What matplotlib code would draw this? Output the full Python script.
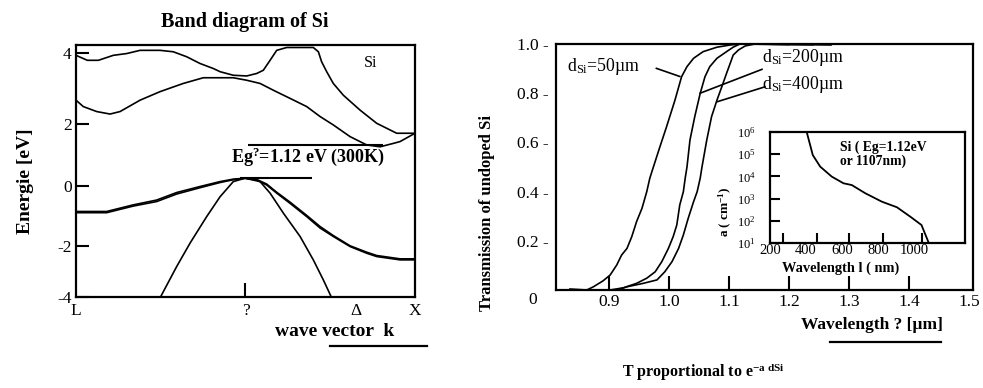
import numpy as np
import matplotlib
matplotlib.use("Agg")
import matplotlib.pyplot as plt
from matplotlib.lines import Line2D
from matplotlib.ticker import FixedLocator, NullFormatter

plt.rcParams['font.family'] = ['Liberation Serif', 'DejaVu Serif']
plt.rcParams['mathtext.fontset'] = 'custom'
plt.rcParams['mathtext.rm'] = 'Liberation Serif'
plt.rcParams['mathtext.bf'] = 'Liberation Serif:bold'
plt.rcParams['mathtext.it'] = 'Liberation Serif:italic'

# ---- band diagram data (k: L=0, Gamma=1, X=2 ; energy in eV)
k_c1 = [0, 0.067, 0.132, 0.220, 0.299, 0.378, 0.496, 0.574, 0.653, 0.732, 0.810, 0.850, 0.928,
        1.007, 1.066, 1.105, 1.145, 1.184, 1.243, 1.400, 1.430, 1.449, 1.479, 1.518, 1.577,
        1.676, 1.774, 1.892, 2.0]
e_c1 = [3.93, 3.79, 3.79, 3.93, 3.98, 4.07, 4.07, 4.03, 3.89, 3.70, 3.56, 3.47, 3.37,
        3.35, 3.42, 3.51, 3.79, 4.07, 4.15, 4.15, 4.03, 3.75, 3.47, 3.14, 2.81,
        2.39, 2.02, 1.70, 1.70]
k_c2 = [0, 0.043, 0.122, 0.201, 0.260, 0.378, 0.496, 0.633, 0.751, 0.928, 1.007, 1.086, 1.164,
        1.263, 1.361, 1.440, 1.518, 1.617, 1.715, 1.794, 1.872, 1.912, 2.0]
e_c2 = [2.67, 2.49, 2.35, 2.28, 2.35, 2.67, 2.91, 3.14, 3.30, 3.30, 3.23, 3.14, 2.95,
        2.72, 2.49, 2.21, 1.97, 1.59, 1.32, 1.26, 1.37, 1.43, 1.70]
k_vb = [0, 0.181, 0.338, 0.476, 0.594, 0.732, 0.850, 0.928, 0.997, 1.066, 1.125, 1.184, 1.263,
        1.361, 1.440, 1.518, 1.617, 1.715, 1.774, 1.912, 2.0]
e_hh = [-0.86, -0.86, -0.64, -0.48, -0.23, -0.03, 0.13, 0.21, 0.24, 0.18, 0.02, -0.25, -0.59,
        -1.03, -1.41, -1.69, -2.03, -2.29, -2.42, -2.55, -2.55]
e_lh = [-0.90, -0.90, -0.68, -0.53, -0.28, -0.07, 0.10, 0.19, 0.24, 0.20, 0.05, -0.22, -0.55,
        -0.99, -1.36, -1.66, -2.00, -2.25, -2.38, -2.51, -2.51]
k_so = [0.501, 0.594, 0.673, 0.771, 0.850, 0.928, 0.997, 1.086, 1.145, 1.224, 1.322, 1.400,
        1.459, 1.504]
e_so = [-3.97, -2.81, -1.91, -1.03, -0.37, 0.13, 0.24, 0.13, -0.25, -0.92, -1.69, -2.55,
        -3.33, -3.97]
cb_min = 1.31
vb_max = 0.26
k_ticks = [0, 1, 1.652, 2]
k_labels = ['L', '?', '\u0394', 'X']
e_ticks = [-4, -2, 0, 2, 4]
# the scanned axis is not evenly spaced: pixel height of each tick above the bottom
e_tick_px = [0, 51.3, 111.6, 173.3, 244.6]

# ---- transmission data (wavelength in um)
wl_50 = [0.835, 0.863, 0.874, 0.890, 0.902, 0.913, 0.921, 0.930, 0.938, 0.946, 0.955, 0.963,
         0.968, 0.974, 0.985, 0.996, 1.010, 1.021, 1.030, 1.041, 1.057, 1.080, 1.102, 1.118, 1.20]
t_50 = [0.004, 0.0, 0.013, 0.037, 0.061, 0.102, 0.142, 0.169, 0.217, 0.278, 0.332, 0.400,
        0.454, 0.50, 0.583, 0.664, 0.772, 0.867, 0.908, 0.942, 0.969, 0.987, 0.996, 1.0, 0.998]
wl_200 = [0.902, 0.924, 0.946, 0.963, 0.977, 0.988, 0.999, 1.007, 1.013, 1.018, 1.024, 1.027,
          1.030, 1.035, 1.043, 1.052, 1.060, 1.068, 1.080, 1.096, 1.107, 1.118, 1.24]
t_200 = [0.0, 0.009, 0.027, 0.048, 0.074, 0.115, 0.169, 0.217, 0.264, 0.346, 0.400, 0.454,
         0.50, 0.610, 0.705, 0.799, 0.867, 0.908, 0.942, 0.969, 0.987, 1.0, 0.997]
wl_400 = [0.913, 0.930, 0.957, 0.980, 0.993, 1.005, 1.016, 1.024, 1.032, 1.041, 1.047, 1.052,
          1.055, 1.063, 1.071, 1.080, 1.088, 1.096, 1.102, 1.107, 1.116, 1.127, 1.143, 1.27]
t_400 = [0.0, 0.013, 0.027, 0.041, 0.074, 0.115, 0.169, 0.224, 0.291, 0.359, 0.400, 0.454,
         0.50, 0.610, 0.705, 0.772, 0.826, 0.881, 0.921, 0.955, 0.976, 0.992, 1.0, 0.996]
wl_ticks = [0.9, 1.0, 1.1, 1.2, 1.3, 1.4, 1.5]
t_ticks = [0.2, 0.4, 0.6, 0.8, 1.0]

# ---- absorption coefficient inset
abs_nm = [403, 437, 478, 542, 607, 653, 728, 820, 903, 978, 1039, 1079]
abs_log = [6.01, 4.96, 4.44, 3.99, 3.69, 3.61, 3.24, 2.86, 2.61, 2.18, 1.81, 1.01]
nm_ticks = [200, 400, 600, 800, 1000]
nm_marks = [270, 460, 635, 825, 1040]

W, H = 983, 388
fig = plt.figure(figsize=(W / 100, H / 100), dpi=100)


def box(l, t, r, b):
    return [l / W, 1 - b / H, (r - l) / W, (b - t) / H]


# ================= left: band diagram =================
ax1 = fig.add_axes(box(76, 45, 415, 297))
ep = [-6] + e_ticks + [6]
hp = [-102.6] + e_tick_px + [316]


def fwd(v):
    return np.interp(v, ep, hp)


def inv(h):
    return np.interp(h, hp, ep)


ax1.set_yscale('function', functions=(fwd, inv))
ax1.set_xlim(0, 2)
ax1.set_ylim(-4, 4.22)
lw = 1.2
ax1.plot(k_c1, e_c1, color='black', lw=lw)
ax1.plot(k_c2, e_c2, color='black', lw=lw)
ax1.plot(k_vb, e_hh, color='black', lw=lw)
ax1.plot(k_vb, e_lh, color='black', lw=lw)
ax1.plot(k_so, e_so, color='black', lw=lw)
ax1.hlines(cb_min, 1.017, 1.813, color='black', lw=1.5)
ax1.hlines(vb_max, 0.968, 1.394, color='black', lw=1.5)

ax1.set_yticks(e_ticks)
ax1.set_yticklabels([str(v) for v in e_ticks])
ax1.yaxis.set_minor_locator(FixedLocator([]))
ax1.set_xticks(k_ticks)
ax1.set_xticklabels(k_labels)
ax1.tick_params(axis='y', direction='in', length=9, width=1.5, labelsize=12.5, pad=3)
ax1.tick_params(axis='x', direction='in', length=10, width=1.5, labelsize=12.5, pad=4)
for i, t in enumerate(ax1.xaxis.get_major_ticks()):
    if i != 1:
        t.tick1line.set_visible(False)
for s in ax1.spines.values():
    s.set_linewidth(1.6)

ax1.text(0.870, 0.928, 'Si', transform=ax1.transAxes, fontsize=11.5, ha='center', va='center')
ax1.text(0.915, 0.93, 'Eg$^{\\mathbf{?}}$=1.12 eV (300K)', fontsize=13, fontweight='bold',
         ha='left', va='center')
ax1.set_ylabel('Energie [eV]', fontsize=14, fontweight='bold')
ax1.yaxis.set_label_coords(-0.125, 0.46)
fig.text(245 / W, 1 - 22 / H, 'Band diagram of Si', fontsize=14.5, fontweight='bold',
         ha='center', va='center')
fig.text(335 / W, 1 - 332 / H, 'wave vector  k', fontsize=14, fontweight='bold',
         ha='center', va='center')
fig.add_artist(Line2D([330 / W, 427 / W], [1 - 346 / H, 1 - 346 / H], color='black', lw=1.6))

# ================= right: transmission =================
ax2 = fig.add_axes(box(556, 44, 973, 290))
ax2.set_xlim(0.8117, 1.5067)
ax2.set_ylim(0, 1.0)
ax2.plot(wl_50, t_50, color='black', lw=lw)
ax2.plot(wl_200, t_200, color='black', lw=lw)
ax2.plot(wl_400, t_400, color='black', lw=lw)
ax2.plot([0.979, 1.018], [0.901, 0.868], color='black', lw=1.2)
ax2.plot([1.052, 1.155], [0.800, 0.897], color='black', lw=1.2)
ax2.plot([1.080, 1.160], [0.765, 0.826], color='black', lw=1.2)
ax2.text(0.830, 0.907, 'd$_{\\mathrm{Si}}$=50\u00b5m', fontsize=12.8, va='center', ha='left')
ax2.text(1.155, 0.947, 'd$_{\\mathrm{Si}}$=200\u00b5m', fontsize=12.8, va='center', ha='left')
ax2.text(1.155, 0.837, 'd$_{\\mathrm{Si}}$=400\u00b5m', fontsize=12.8, va='center', ha='left')

ax2.set_xticks(wl_ticks)
ax2.set_xticklabels([f'{v:.1f}' for v in wl_ticks])
ax2.set_yticks(t_ticks)
ax2.set_yticklabels([f'{v:.1f} -' for v in t_ticks])
ax2.tick_params(axis='x', direction='in', length=10, width=1.5, labelsize=12.5, pad=3)
ax2.tick_params(axis='y', length=0, labelsize=12.5, pad=5)
ax2.xaxis.get_major_ticks()[-1].tick1line.set_visible(False)
for s in ax2.spines.values():
    s.set_linewidth(1.6)
ax2.text(-0.055, -0.04, '0', transform=ax2.transAxes, fontsize=12.5, ha='center', va='center')
ax2.set_ylabel('Transmission of undoped Si', fontsize=12, fontweight='bold')
ax2.yaxis.set_label_coords(-0.146, 0.313)
fig.text(872 / W, 1 - 325 / H, 'Wavelength ? [\u00b5m]', fontsize=12.5, fontweight='bold',
         ha='center', va='center')
fig.add_artist(Line2D([830 / W, 941 / W], [1 - 342 / H, 1 - 342 / H], color='black', lw=1.6))
fig.text(703 / W, 1 - 372 / H, 'T proportional to e$^{\\mathbf{-a\\ dSi}}$', fontsize=11.5,
         fontweight='bold', ha='center', va='center')

# ================= inset: absorption coefficient =================
ax3 = fig.add_axes(box(770, 132, 965, 243))
ax3.set_yscale('log')
ax3.set_xlim(200, 1280)
ax3.set_ylim(10, 1e6)
ax3.plot(abs_nm, [10 ** v for v in abs_log], color='black', lw=1.3)
ax3.set_xticks(nm_ticks)
ax3.set_xticklabels([str(v) for v in nm_ticks])
ax3.xaxis.set_minor_locator(FixedLocator(nm_marks))
ax3.xaxis.set_minor_formatter(NullFormatter())
ax3.set_yticks([1e1, 1e2, 1e3, 1e4, 1e5, 1e6])
ax3.yaxis.set_minor_locator(FixedLocator([]))
ax3.tick_params(axis='x', which='major', length=0, labelsize=10.5, pad=1)
ax3.tick_params(axis='x', which='minor', direction='in', length=7, width=1.5)
ax3.tick_params(axis='y', direction='in', length=7, width=1.5, labelsize=9, pad=10.5)
for s in ax3.spines.values():
    s.set_linewidth(1.6)
ax3.text(0.36, 0.92, 'Si ( Eg=1.12eV\nor 1107nm)', transform=ax3.transAxes, fontsize=9.8,
         fontweight='bold', ha='left', va='top', linespacing=1.0)
ax3.set_xlabel('Wavelength l ( nm)', fontsize=10.4, fontweight='bold')
ax3.xaxis.set_label_coords(0.364, -0.17)
ax3.set_ylabel('a ( cm$^{\\mathbf{-1}}$)', fontsize=9.5, fontweight='bold')
ax3.yaxis.set_label_coords(-0.185, 0.28)

fig.savefig('out.png', dpi=100)
